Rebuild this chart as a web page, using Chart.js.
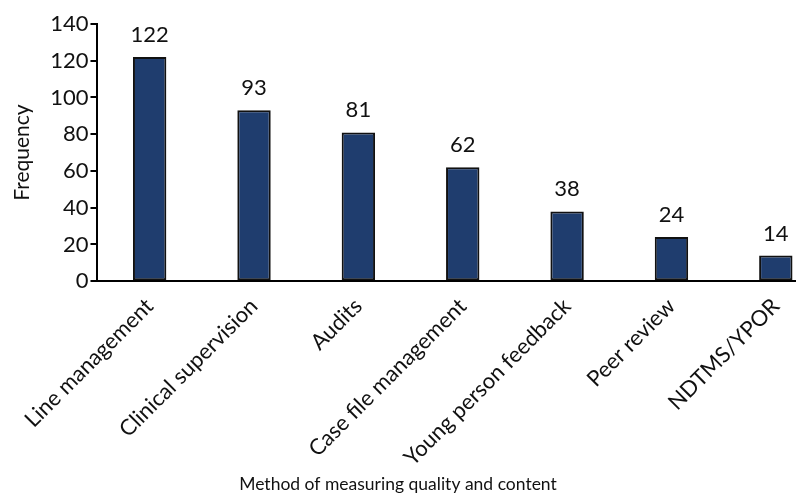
<!DOCTYPE html>
<html>
<head>
<meta charset="utf-8">
<script src="https://cdn.jsdelivr.net/npm/chart.js@4/dist/chart.umd.min.js"></script>
<style>
  html, body { margin: 0; padding: 0; background: #fff; overflow: hidden; }
  #wrap { width: 796px; height: 495px; overflow: hidden; }
</style>
</head>
<body>
<!-- the original plot runs past the right edge, so the canvas is wider than the visible frame -->
<div id="wrap"><canvas id="methodChart" width="828" height="495"></canvas></div>
<script>
var categories = ['Line management', 'Clinical supervision', 'Audits', 'Case file management',
    'Young person feedback', 'Peer review', 'NDTMS/YPOR'];
var frequency = [122, 93, 81, 62, 38, 24, 14];
var yTicks = [0, 20, 40, 60, 80, 100, 120, 140];
var xTitle = 'Method of measuring quality and content';

// value labels above each bar
var barValues = {
    id: 'barValues',
    afterDatasetsDraw: function(chart) {
        var ctx = chart.ctx;
        var meta = chart.getDatasetMeta(0);
        ctx.save();
        ctx.font = '22px Lato';
        ctx.fillStyle = '#111';
        ctx.textAlign = 'center';
        ctx.textBaseline = 'bottom';
        meta.data.forEach(function(bar, i) {
            ctx.fillText(String(frequency[i]), bar.x, bar.y - 11);
        });
        ctx.restore();
    }
};

// x axis title, centred on the visible frame like the original
var bottomTitle = {
    id: 'bottomTitle',
    afterDraw: function(chart) {
        var ctx = chart.ctx;
        var visible = document.getElementById('wrap').clientWidth;
        ctx.save();
        ctx.font = '17.5px Lato';
        ctx.fillStyle = '#111';
        ctx.textAlign = 'center';
        ctx.textBaseline = 'alphabetic';
        ctx.fillText(xTitle, visible / 2, chart.height - 5);
        ctx.restore();
    }
};

document.addEventListener('DOMContentLoaded', function() {
    var canvas = document.getElementById('methodChart');

    new Chart(canvas, {
        type: 'bar',
        data: {
            labels: categories,
            datasets: [{
                label: 'Frequency',
                data: frequency,
                backgroundColor: '#1f3d6e',
                borderColor: '#111',
                borderWidth: 2,
                borderSkipped: false,
                categoryPercentage: 1,
                barPercentage: 0.32
            }]
        },
        options: {
            responsive: false,
            animation: false,
            layout: { padding: { top: 24, right: 0, left: 10, bottom: 20 } },
            plugins: {
                legend: { display: false },
                tooltip: { enabled: false }
            },
            scales: {
                x: {
                    grid: { display: false },
                    border: { display: true, color: '#000', width: 2 },
                    ticks: {
                        color: '#111',
                        font: { family: 'Lato', size: 22 },
                        minRotation: 45,
                        maxRotation: 45,
                        autoSkip: false,
                        padding: 4
                    }
                },
                y: {
                    min: 0,
                    max: 140,
                    afterBuildTicks: function(scale) {
                        scale.ticks = yTicks.map(function(v) { return { value: v }; });
                    },
                    grid: {
                        drawOnChartArea: false,
                        drawTicks: true,
                        tickLength: 7,
                        color: '#000',
                        lineWidth: 2
                    },
                    border: { display: true, color: '#000', width: 2 },
                    ticks: {
                        color: '#111',
                        font: { family: 'Lato', size: 22 },
                        padding: 2
                    },
                    title: {
                        display: true,
                        text: 'Frequency',
                        color: '#111',
                        font: { family: 'Lato', size: 21 },
                        padding: { top: 0, bottom: 13 }
                    }
                }
            }
        },
        plugins: [barValues, bottomTitle]
    });
});
</script>
</body>
</html>
